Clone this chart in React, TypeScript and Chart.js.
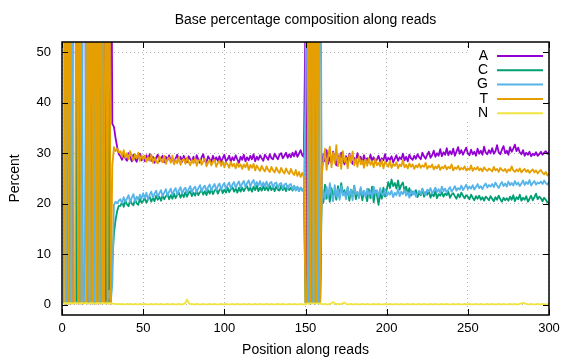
import React, { useEffect, useRef } from "react";
import { Chart, registerables } from "chart.js";

Chart.register(...registerables);

const chartTitle = "Base percentage composition along reads";
const xTitle = "Position along reads";
const yTitle = "Percent";
const baseLabels = ["A", "C", "G", "T", "N"];
const baseColors = ["#9400d3", "#009e73", "#56b4e9", "#e69f00", "#f0e442"];
const xTicks = [0, 50, 100, 150, 200, 250, 300];
const yTicks = [0, 10, 20, 30, 40, 50];

const A = [
  0.4, 0.3, 0.5, 0.4, 0.3, 0.6, 98.8, 98.6, 0.3, 0.5, 0.3, 0.4, 98.9, 98.5, 13.2,
  0.3, 0.5, 0.4, 0.3, 0.4, 0.3, 0.5, 0.4, 0.3, 0.6, 98.4, 0.4, 0.5, 0.3, 99.0,
  35.8, 35.2, 33.0, 31.2, 29.8,
  29.4, 28.7, 29.8, 29.0, 28.5, 30.0, 29.2, 28.4, 29.7, 28.9, 28.3, 29.5, 29.9, 28.6, 29.3,
  28.4, 29.6, 28.7, 29.8, 28.5, 29.3, 28.1, 29.1, 29.7, 28.4, 29.0, 29.5, 28.2, 29.3, 28.6,
  29.6, 28.4, 29.1, 28.0, 29.0, 29.7, 28.5, 29.3, 28.3, 29.5, 28.7, 28.2, 29.4, 28.8, 28.4,
  29.3, 28.3, 29.6, 28.7, 28.1, 29.2, 29.8, 28.5, 28.2, 29.4, 28.8, 28.3, 29.5, 28.5, 29.2,
  28.5, 29.4, 28.2, 29.0, 29.7, 28.4, 28.8, 29.5, 28.3, 29.2, 28.6, 29.6, 28.8, 28.1, 29.3,
  28.7, 29.7, 28.4, 29.2, 28.6, 29.5, 28.8, 29.8, 28.4, 29.3, 28.7, 29.6, 29.0, 28.5, 29.7,
  29.2, 28.7, 29.8, 29.0, 28.8, 29.9, 29.3, 28.8, 29.7, 30.0, 29.0, 29.5, 30.1, 29.1, 29.8,
  29.2, 30.1, 29.4, 30.4, 29.3, 29.9, 30.6, 29.6, 29.3,
  58.0, 0.4, 0.5, 0.3, 0.4, 0.5, 0.3, 0.4, 0.5, 0.4,
  27.5, 29.8, 28.4, 30.6, 27.9, 29.2, 28.1, 30.3, 28.7, 27.6, 29.5, 28.2, 30.1, 28.8, 27.8,
  29.4, 28.3, 29.9, 28.6, 27.9, 29.1, 28.4, 30.0, 28.7, 29.3, 28.0, 29.6, 28.5, 29.0, 28.2,
  29.7, 28.6, 29.2, 28.1, 28.8, 29.5, 28.3, 29.0, 28.6, 29.8, 28.4, 29.1, 28.7, 29.4, 28.2,
  28.9, 29.6, 28.5, 29.2, 28.8, 29.9, 28.6, 29.3, 28.4, 29.7, 29.0, 28.7, 29.5, 28.9, 29.8,
  29.2, 28.8, 30.1, 29.4, 28.9, 29.7, 30.3, 29.1, 29.6, 30.5, 29.3, 30.0, 29.5, 30.8, 29.4,
  30.2, 29.7, 31.0, 29.6, 30.4, 29.8, 30.9, 29.5, 30.3, 31.2, 29.9, 30.6, 29.7, 30.4, 31.1,
  30.0, 29.6, 30.7, 29.8, 30.3, 29.5, 30.9, 29.9, 30.5, 29.7, 31.3, 30.1, 29.8, 30.6, 30.0,
  31.0, 29.9, 30.4, 31.6, 30.2, 29.8, 30.7, 31.4, 30.0, 30.5, 29.7, 31.2, 30.3, 30.9, 31.7,
  30.4, 31.1, 30.2, 29.8, 30.6, 29.5, 30.1, 29.7, 30.3, 29.4, 29.9, 29.6, 30.2, 29.5, 29.8,
  30.3, 29.7, 30.1, 30.4, 29.9, 30.2,
];

const C = [
  0.5, 0.4, 0.3, 98.7, 0.5, 0.4, 0.4, 0.5, 0.4, 98.4, 0.4, 0.3, 0.3, 0.5, 0.4,
  0.5, 0.4, 0.3, 98.8, 0.5, 0.6, 0.4, 98.6, 0.5, 0.3, 0.5, 0.3, 98.5, 0.4, 0.3,
  8.5, 14.1, 16.8, 18.6, 19.6,
  19.6, 20.4, 19.4, 20.6, 19.9, 19.5, 20.8, 20.0, 19.7, 20.9, 20.1, 19.8, 21.0, 20.2, 20.6,
  21.1, 20.2, 20.9, 21.4, 20.4, 21.2, 20.5, 21.6, 20.8, 21.4, 20.6, 21.7, 20.9, 21.5, 21.9,
  20.9, 21.7, 21.0, 22.0, 21.1, 21.8, 22.2, 21.2, 22.0, 21.3, 22.3, 21.4, 22.1, 22.5, 21.5,
  22.2, 21.6, 22.6, 21.7, 22.3, 22.8, 21.8, 22.5, 21.7, 22.7, 22.0, 22.9, 21.9, 22.6, 23.0,
  22.0, 22.7, 23.1, 22.1, 22.8, 22.2, 23.2, 22.3, 22.9, 23.3, 22.4, 23.0, 22.2, 23.2, 22.4,
  23.2, 22.5, 23.1, 23.5, 22.6, 23.2, 22.4, 23.4, 22.7, 23.6, 22.5, 23.2, 22.6, 23.5, 22.7,
  23.3, 22.6, 23.6, 22.7, 23.3, 22.5, 23.5, 22.8, 22.6, 23.6, 22.7, 23.3, 22.5, 23.5, 22.7,
  23.2, 22.6, 23.5, 22.7, 23.3, 22.5, 23.2, 22.6, 23.1,
  0.5, 0.4, 0.3, 98.7, 0.4, 0.5, 0.3, 98.6, 0.4, 0.5,
  21.5, 20.2, 23.8, 21.0, 22.6, 20.4, 23.1, 21.7, 22.4, 20.8, 23.5, 21.3, 24.1, 21.9, 22.7,
  21.2, 23.3, 20.6, 22.8, 21.5, 23.6, 20.9, 22.2, 21.4, 23.0, 20.7, 22.5, 21.8, 20.5, 22.9,
  21.1, 23.4, 20.3, 22.6, 21.7, 19.8, 22.1, 21.0, 23.2, 21.4, 22.7, 24.3, 23.1, 24.8, 23.5,
  24.1, 23.0, 24.6, 22.8, 23.7, 24.2, 22.5, 23.4, 22.0, 23.1, 21.6, 22.4, 21.9, 22.7, 21.3,
  22.2, 21.7, 22.9, 21.4, 22.3, 21.8, 22.6, 21.2, 22.0, 21.5, 22.5, 21.1, 21.9, 21.6, 22.3,
  21.4, 22.0, 21.7, 22.4, 21.2, 21.8, 22.1, 21.5, 21.0, 21.9, 21.3, 22.2, 21.6, 21.1, 21.7,
  21.4, 20.9, 21.8, 21.2, 20.7, 21.5, 21.0, 21.6, 20.8, 21.3, 20.6, 21.4, 21.1, 20.7, 21.5,
  21.0, 20.5, 21.3, 20.8, 21.6, 20.9, 20.4, 21.2, 20.7, 21.1, 20.6, 21.4, 20.8, 21.7, 20.5,
  21.3, 20.9, 21.8, 20.6, 21.2, 20.8, 21.5, 20.4, 21.0, 21.6, 20.7, 21.3, 22.0, 20.9, 21.4,
  21.1, 20.5, 21.2, 20.8, 20.3, 20.1,
];

const G = [
  0.6, 98.9, 0.4, 0.5, 0.6, 98.6, 0.3, 0.4, 0.5, 0.6, 0.5, 98.9, 0.4, 0.4, 85.8,
  0.4, 98.6, 0.5, 0.5, 0.3, 98.7, 0.3, 0.6, 0.4, 98.7, 0.6, 0.5, 0.6, 2.8, 0.4,
  4.2, 19.8, 20.4, 20.1, 20.6,
  20.9, 20.1, 21.3, 20.4, 21.0, 21.7, 20.3, 21.2, 21.9, 20.5, 21.4, 20.8, 21.8, 21.0, 22.1,
  21.1, 22.2, 20.8, 21.8, 22.4, 21.2, 22.0, 22.6, 21.3, 22.1, 22.7, 21.5, 22.2, 22.9, 21.6,
  22.4, 23.0, 21.7, 22.6, 23.1, 21.8, 22.7, 23.3, 22.0, 22.8, 23.2, 22.1, 22.9, 23.5, 22.2,
  23.0, 23.4, 22.3, 23.1, 23.7, 22.4, 23.2, 23.6, 22.5, 23.3, 23.8, 22.6, 23.4, 23.9, 22.7,
  23.5, 24.0, 22.8, 23.6, 24.1, 22.9, 23.7, 24.2, 23.0, 23.8, 24.3, 23.1, 23.9, 24.4, 23.2,
  24.0, 24.5, 23.3, 24.1, 24.6, 23.4, 24.2, 24.7, 23.5, 24.3, 23.6, 24.5, 23.4, 24.2, 23.5,
  24.4, 23.3, 24.1, 24.3, 23.2, 24.0, 24.2, 23.1, 23.9, 24.1, 23.0, 23.8, 24.0, 22.9, 23.7,
  23.9, 22.8, 23.6, 22.6, 23.4, 22.5, 23.2, 22.6, 22.9,
  41.0, 98.6, 0.4, 0.5, 0.3, 98.5, 0.4, 0.5, 0.3, 98.7,
  19.8, 22.6, 20.9, 23.4, 21.2, 24.1, 21.8, 20.5, 23.7, 21.4, 22.9, 20.8, 23.5, 21.6, 22.3,
  20.9, 23.2, 21.5, 22.8, 20.7, 23.6, 21.9, 22.4, 21.1, 23.3, 21.7, 22.6, 21.3, 23.0, 21.8,
  22.5, 21.2, 23.4, 21.9, 22.7, 21.4, 23.1, 22.0, 21.6, 22.9, 21.5, 22.3, 21.8, 22.6, 21.3,
  22.2, 21.7, 22.9, 21.5, 22.4, 21.9, 22.8, 21.6, 22.3, 21.2, 22.7, 21.8, 22.5, 21.4, 22.1,
  22.6, 21.9, 23.0, 22.2, 21.7, 22.8, 22.4, 23.1, 22.0, 22.6, 23.2, 22.3, 22.9, 22.1, 23.4,
  22.5, 23.0, 22.2, 22.8, 23.3, 22.4, 22.9, 23.5, 22.6, 23.1, 22.8, 23.6, 22.7, 23.2, 23.8,
  22.9, 23.4, 23.0, 23.7, 22.8, 23.3, 23.9, 23.1, 23.5, 22.9, 23.6, 24.0, 23.2, 23.7, 23.4,
  23.9, 23.3, 24.2, 23.6, 23.1, 23.8, 24.3, 23.5, 24.0, 23.4, 24.4, 23.7, 24.1, 23.6, 24.5,
  23.8, 24.2, 23.5, 24.0, 24.6, 23.7, 24.3, 23.9, 24.7, 23.6, 24.1, 24.5, 23.8, 24.2, 24.0,
  24.4, 23.9, 24.6, 24.1, 23.8, 24.3,
];

const T = [
  98.2, 0.2, 98.5, 0.2, 98.4, 0.3, 0.4, 0.3, 98.7, 0.4, 98.6, 0.3, 0.3, 0.5, 0.5,
  98.7, 0.4, 98.7, 0.3, 98.6, 0.3, 98.7, 0.3, 98.7, 0.3, 0.4, 98.7, 0.3, 96.4, 0.2,
  27.6, 31.2, 30.4, 30.9, 30.2,
  30.4, 29.3, 30.6, 29.1, 30.0, 28.8, 30.4, 29.3, 28.6, 29.8, 29.0, 30.1, 28.5, 29.6, 28.8,
  29.5, 28.3, 29.2, 28.5, 29.7, 28.1, 29.1, 28.4, 28.0, 29.4, 28.6, 28.2, 29.5, 27.9, 28.8,
  29.1, 28.1, 29.5, 27.8, 28.7, 28.0, 29.2, 27.7, 28.6, 28.9, 27.9, 29.1, 28.3, 27.6, 28.7,
  28.0, 29.0, 27.5, 28.5, 28.8, 27.7, 28.4, 28.9, 27.4, 28.2, 28.6, 27.6, 28.3, 28.7, 27.3,
  28.1, 28.5, 27.5, 28.4, 27.2, 28.2, 27.8, 27.1, 28.3, 27.4, 27.9, 27.0, 28.1, 27.3, 27.8,
  26.9, 27.8, 27.2, 28.1, 26.7, 27.7, 27.1, 27.9, 26.6, 27.6, 27.0, 26.5, 27.5, 26.8, 26.4,
  27.4, 26.7, 26.3, 27.3, 26.6, 26.2, 27.2, 26.5, 26.1, 27.1, 26.4, 26.0, 27.0, 26.3, 25.9,
  26.9, 26.1, 25.7, 26.7, 25.5, 26.3, 25.3, 26.1, 25.2,
  0.4, 0.4, 98.5, 0.3, 98.8, 0.5, 98.9, 0.4, 98.7, 0.3,
  25.8, 28.4, 30.9, 26.7, 29.5, 31.3, 27.2, 30.1, 28.0, 31.6, 27.4, 29.8, 26.9, 30.4, 28.3,
  29.1, 27.0, 29.7, 28.2, 30.3, 27.6, 28.9, 27.3, 29.4, 27.8, 28.6, 27.1, 28.8, 27.5, 29.0,
  27.7, 28.4, 27.2, 28.9, 27.6, 28.1, 27.4, 28.7, 27.0, 28.3, 27.8, 27.3, 28.5, 27.1, 27.9,
  27.5, 28.2, 27.0, 27.8, 27.4, 28.6, 27.2, 27.7, 27.0, 28.0, 27.3, 27.8, 26.9, 27.6, 27.2,
  27.9, 27.1, 27.6, 27.3, 28.1, 26.9, 27.5, 27.2, 27.8, 26.8, 27.4, 27.0, 27.7, 26.7, 27.3,
  27.0, 27.6, 26.8, 27.3, 27.0, 27.8, 26.6, 27.2, 26.9, 27.5, 26.7, 27.1, 26.8, 27.4, 26.6,
  27.0, 26.7, 27.6, 26.5, 27.1, 26.8, 27.3, 26.6, 27.0, 26.4, 27.2, 26.8, 26.5, 27.0, 26.7,
  26.4, 27.3, 26.6, 26.9, 26.3, 27.1, 26.7, 26.5, 26.9, 26.2, 26.8, 26.5, 27.4, 26.6, 26.3,
  26.8, 26.4, 27.0, 26.2, 26.6, 26.9, 26.3, 26.7, 26.1, 26.5, 26.8, 26.2, 26.6, 26.0, 26.4,
  26.7, 26.1, 25.8, 26.3, 25.6, 25.9,
];

const N = [
  0.3, 0.4, 0.3, 0.3, 0.4, 0.3, 0.3, 0.4, 0.3, 0.3, 0.3, 0.4, 0.3, 0.3, 0.4,
  0.3, 0.3, 0.4, 0.3, 0.3, 0.3, 0.4, 0.3, 0.3, 0.4, 0.3, 0.3, 0.3, 0.4, 0.3,
  0.3, 0.2, 0.2, 0.1, 0.2, 0.1, 0.2, 0.1, 0.1, 0.2, 0.1, 0.2, 0.1, 0.1, 0.2,
  0.1, 0.1, 0.2, 0.1, 0.1, 0.2, 0.1, 0.1, 0.1, 0.2, 0.1, 0.1, 0.2, 0.1, 0.1,
  0.2, 0.1, 0.1, 0.1, 0.2, 0.1, 0.1, 0.2, 0.1, 0.1, 0.1, 0.2, 0.1, 0.1, 0.2,
  0.4, 1.1, 0.4, 0.1, 0.2, 0.1, 0.1, 0.2, 0.1, 0.1, 0.1, 0.2, 0.1, 0.1, 0.1,
  0.2, 0.1, 0.1, 0.2, 0.1, 0.1, 0.1, 0.2, 0.1, 0.1, 0.2, 0.1, 0.1, 0.1, 0.2,
  0.1, 0.1, 0.2, 0.1, 0.1, 0.1, 0.2, 0.1, 0.1, 0.2, 0.1, 0.1, 0.1, 0.2, 0.1,
  0.1, 0.2, 0.1, 0.1, 0.1, 0.2, 0.1, 0.1, 0.2, 0.1, 0.1, 0.1, 0.2, 0.1, 0.1,
  0.2, 0.1, 0.1, 0.1, 0.2, 0.1, 0.1, 0.2, 0.1, 0.1, 0.1, 0.2, 0.1, 0.1, 0.1,
  0.3, 0.3, 0.3, 0.3, 0.3, 0.3, 0.3, 0.3, 0.3, 0.2, 0.1, 0.2, 0.1, 0.1, 0.2,
  0.3, 0.6, 0.3, 0.1, 0.2, 0.1, 0.2, 0.3, 0.5, 0.2, 0.1, 0.1, 0.2, 0.1, 0.1,
  0.2, 0.1, 0.1, 0.1, 0.2, 0.1, 0.1, 0.2, 0.1, 0.1, 0.1, 0.2, 0.1, 0.1, 0.2,
  0.1, 0.1, 0.1, 0.2, 0.1, 0.1, 0.2, 0.1, 0.1, 0.1, 0.2, 0.1, 0.1, 0.2, 0.1,
  0.1, 0.1, 0.2, 0.1, 0.1, 0.2, 0.1, 0.1, 0.1, 0.2, 0.1, 0.1, 0.2, 0.1, 0.1,
  0.1, 0.2, 0.1, 0.1, 0.2, 0.1, 0.1, 0.1, 0.2, 0.1, 0.1, 0.2, 0.1, 0.1, 0.1,
  0.2, 0.1, 0.1, 0.2, 0.1, 0.1, 0.1, 0.2, 0.1, 0.1, 0.2, 0.1, 0.1, 0.1, 0.2,
  0.1, 0.1, 0.2, 0.1, 0.1, 0.1, 0.2, 0.1, 0.1, 0.2, 0.1, 0.1, 0.1, 0.2, 0.1,
  0.1, 0.2, 0.1, 0.1, 0.1, 0.2, 0.1, 0.1, 0.2, 0.1, 0.1, 0.2, 0.3, 0.4, 0.3,
  0.2, 0.1, 0.1, 0.2, 0.1, 0.1, 0.1, 0.2, 0.1, 0.1, 0.2, 0.1, 0.1, 0.1, 0.2,
];

const series = [A, C, G, T, N];
const positions = A.map((_, i) => i + 1);

const FONT = "'Liberation Sans', Arial, Helvetica, sans-serif";

const decorPlugin = {
  id: "decor",
  beforeDraw(chart: any) {
    const ctx = chart.ctx;
    ctx.save();
    ctx.fillStyle = "#ffffff";
    ctx.fillRect(0, 0, chart.width, chart.height);
    ctx.restore();
  },
  beforeDatasetsDraw(chart: any) {
    const { ctx, chartArea } = chart;
    // opaque key area
    ctx.save();
    ctx.fillStyle = "#ffffff";
    ctx.fillRect(chartArea.right - 82, chartArea.top + 9, 81, 70);
    ctx.restore();
  },
  afterDatasetsDraw(chart: any) {
    const { ctx, chartArea, scales } = chart;
    const { left, right, top, bottom } = chartArea;
    ctx.save();
    // border
    ctx.strokeStyle = "#000000";
    ctx.lineWidth = 1.5;
    ctx.strokeRect(left, top, right - left, bottom - top);
    // tick marks (inward, mirrored)
    ctx.lineWidth = 1;
    const tl = 6;
    ctx.beginPath();
    xTicks.forEach((v) => {
      const px = Math.round(scales.x.getPixelForValue(v)) + 0.5;
      ctx.moveTo(px, bottom);
      ctx.lineTo(px, bottom - tl);
      ctx.moveTo(px, top);
      ctx.lineTo(px, top + tl);
    });
    yTicks.forEach((v) => {
      const py = Math.round(scales.y.getPixelForValue(v)) + 0.5;
      ctx.moveTo(left, py);
      ctx.lineTo(left + tl, py);
      ctx.moveTo(right, py);
      ctx.lineTo(right - tl, py);
    });
    ctx.stroke();

    // legend
    ctx.font = `14px ${FONT}`;
    ctx.textBaseline = "middle";
    ctx.textAlign = "right";
    baseLabels.forEach((lab, i) => {
      const y = top + 14 + i * 14.3;
      ctx.fillStyle = "#000000";
      ctx.fillText(lab, right - 61, y);
      ctx.strokeStyle = baseColors[i];
      ctx.lineWidth = 2;
      ctx.beginPath();
      ctx.moveTo(right - 52, y);
      ctx.lineTo(right - 6, y);
      ctx.stroke();
    });

    // titles
    ctx.fillStyle = "#000000";
    ctx.textAlign = "center";
    ctx.textBaseline = "middle";
    ctx.font = `14px ${FONT}`;
    const cx = (left + right) / 2;
    ctx.fillText(chartTitle, cx, 20);
    ctx.fillText(xTitle, cx, 350);
    ctx.translate(15, (top + bottom) / 2);
    ctx.rotate(-Math.PI / 2);
    ctx.fillText(yTitle, 0, 0);
    ctx.restore();
  },
};

export default function App() {
  const ref = useRef<HTMLCanvasElement | null>(null);
  useEffect(() => {
    document.body.style.margin = "0";
    if (!ref.current) return;
    Chart.defaults.font.family = FONT;
    Chart.defaults.font.size = 13;
    Chart.defaults.color = "#000000";
    const chart = new Chart(ref.current, {
      type: "line",
      data: {
        labels: positions,
        datasets: baseLabels.map((lab, i) => ({
          label: lab,
          data: series[i].map((v, j) => ({ x: positions[j], y: v })),
          borderColor: baseColors[i],
          backgroundColor: baseColors[i],
          borderWidth: 1.8,
          borderJoinStyle: "round",
          borderCapStyle: "round",
          pointRadius: 0,
          tension: 0,
          fill: false,
          order: baseLabels.length - i,
        })),
      },
      plugins: [decorPlugin],
      options: {
        responsive: false,
        animation: false,
        devicePixelRatio: 1,
        layout: { padding: { left: 0, right: 27, top: 42, bottom: 0 } },
        plugins: {
          legend: { display: false },
          tooltip: { enabled: false },
          title: { display: false },
        },
        scales: {
          x: {
            type: "linear",
            min: 0,
            max: 300,
            afterBuildTicks: (axis: any) => {
              axis.ticks = xTicks.map((v) => ({ value: v }));
            },
            afterFit: (s: any) => {
              s.height = 45;
            },
            ticks: { padding: 6, maxRotation: 0, autoSkip: false, color: "#000000" },
            grid: { color: "#b4b4b4", lineWidth: 1, drawTicks: false },
            border: { display: false, dash: [1, 3] },
          },
          y: {
            type: "linear",
            min: -2,
            max: 52,
            afterBuildTicks: (axis: any) => {
              axis.ticks = yTicks.map((v) => ({ value: v }));
            },
            afterFit: (s: any) => {
              s.width = 62;
            },
            ticks: { padding: 11, autoSkip: false, color: "#000000" },
            grid: { color: "#b4b4b4", lineWidth: 1, drawTicks: false },
            border: { display: false, dash: [1, 3] },
          },
        },
      },
    } as any);
    return () => chart.destroy();
  }, []);
  return (
    <canvas
      ref={ref}
      width={576}
      height={360}
      style={{ display: "block", position: "absolute", left: 0, top: 0, width: 576, height: 360 }}
    />
  );
}
